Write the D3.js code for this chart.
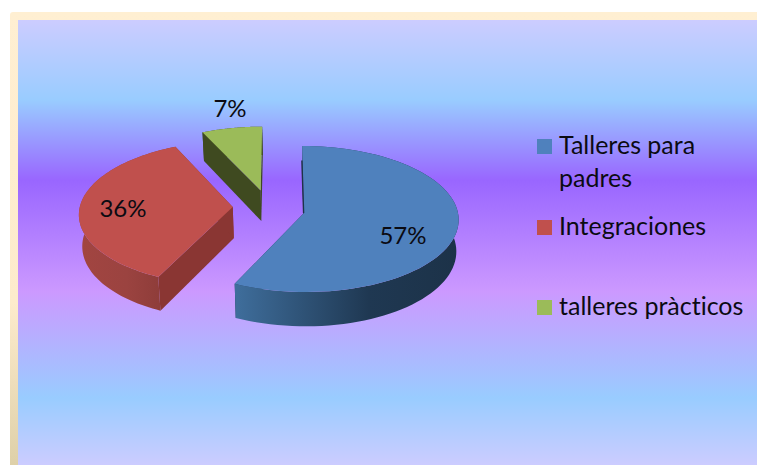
<!DOCTYPE html>
<html><head><meta charset="utf-8">
<script src="https://cdn.jsdelivr.net/npm/d3@7"></script>
<style>html,body{margin:0;padding:0;background:#fff;overflow:hidden}svg{display:block}text{font-family:Lato,"Open Sans",sans-serif;fill:#0b0b12;font-variant-ligatures:none}</style>
</head><body><svg id="c" width="757" height="465"></svg>
<script>
const categories = ["Talleres para padres", "Integraciones", "talleres pràcticos"];
const legendLines = [["Talleres para", "padres"], ["Integraciones"], ["talleres pràcticos"]];
const values = [57, 36, 7];
const tickLabels = values.map(v => v + "%");
const topColors = ["#4F81BD", "#C0504D", "#9BBB59"];

const W = 757, H = 465;
const svg = d3.select("#c");
const defs = svg.append("defs");

// page frame
const frameGrad = defs.append("linearGradient").attr("id","frame").attr("x1",0).attr("y1",0).attr("x2",0).attr("y2",1);
[[0,"#FFEFD2"],[0.6,"#FDEBCC"],[1,"#D8CBA2"]].forEach(s=>frameGrad.append("stop").attr("offset",s[0]).attr("stop-color",s[1]));
const bgGrad = defs.append("linearGradient").attr("id","bg").attr("gradientUnits","userSpaceOnUse").attr("x1",0).attr("y1",20).attr("x2",0).attr("y2",465);
[[0,"#CCCCFF"],[0.18,"#99CCFF"],[0.36,"#9966FF"],[0.61,"#CC99FF"],[0.85,"#99CCFF"],[1,"#CCCCFF"]].forEach(s=>bgGrad.append("stop").attr("offset",s[0]).attr("stop-color",s[1]));
svg.append("rect").attr("x",10).attr("y",12).attr("width",W+20).attr("height",H+20).attr("rx",3).attr("fill","url(#frame)");
svg.append("rect").attr("x",18).attr("y",20).attr("width",W).attr("height",H).attr("fill","url(#bg)");

// 3D pie projection: plane coordinates with a mild perspective
const cx = 304, cy = 213, A = 154, B = 72.5, K = 0.0822, SHEAR = -1.7, DEPTH = 31.5;
const offsets = [[0,0],[-0.465,0.083],[-0.285,0.32]];
const sx = d3.scaleLinear().domain([0,1]).range([cx,cx+A]);
const sy = d3.scaleLinear().domain([0,1]).range([cy,cy-B]);
function proj(X,Y,bottom){
  const s = 1/(1+K*Y);
  let x = sx(X*s) + SHEAR*Y, y = sy(Y*s);
  if(bottom){ x = cx+(x-cx)*0.985; y += DEPTH*s; }
  return [x,y];
}
function pt(i,a,r,bottom){
  return proj(offsets[i][0]+r*Math.sin(a), offsets[i][1]+r*Math.cos(a), bottom);
}
const pieData = d3.pie().sort(null)(values);
const line = d3.line();

const wallStops = [
  [[0,"#3F6E9C"],[0.3,"#2F5377"],[0.6,"#1F3852"],[1,"#1C3248"]],
  [[0,"#A24541"],[0.6,"#9B4340"],[1,"#8F3D3A"]],
  [[0,"#3F4A20"],[1,"#3F4A20"]]
];
const cutColors = ["#1D3349","#8A3633","#3F4A20"];

pieData.forEach((d,i)=>{
  const n = 80;
  const angles = d3.range(n+1).map(k=>d.startAngle+(d.endAngle-d.startAngle)*k/n);
  const top = angles.map(a=>pt(i,a,1,false));
  const bot = angles.map(a=>pt(i,a,1,true));
  const xs = top.map(p=>p[0]);
  const gid = "wall"+i;
  const g = defs.append("linearGradient").attr("id",gid).attr("gradientUnits","userSpaceOnUse")
    .attr("x1",d3.min(xs)).attr("x2",i===1?pt(i,d.startAngle,1,false)[0]:d3.max(xs)).attr("y1",0).attr("y2",0);
  wallStops[i].forEach(s=>g.append("stop").attr("offset",s[0]).attr("stop-color",s[1]));
  // cut faces (behind the outer wall)
  [d.startAngle,d.endAngle].forEach(a=>{
    const poly=[pt(i,a,0,false),pt(i,a,1,false),pt(i,a,1,true),pt(i,a,0,true)];
    svg.append("path").attr("d",line(poly)+"Z").attr("fill",cutColors[i]);
  });
  // outer wall
  svg.append("path").attr("d",line(top.concat(bot.slice().reverse()))+"Z").attr("fill",`url(#${gid})`);
  // top face
  const apex = pt(i,0,0,false);
  svg.append("path").attr("d",line([apex].concat(top))+"Z").attr("fill",topColors[i]);
  // thin dark sliver along the hidden cut of the big slice
  if(i===0){
    const s0 = pt(i,d.startAngle,0.77,false);
    svg.append("path").attr("d",line([[s0[0]-0.8,s0[1]],[apex[0]-0.4,apex[1]]])).attr("stroke",cutColors[0]).attr("stroke-width",1.4).attr("fill","none");
  }
});

// value labels
const labelPos = [[403,244],[123,217],[230,117]];
svg.selectAll("text.v").data(tickLabels).join("text").attr("class","v")
  .attr("x",(d,i)=>labelPos[i][0]).attr("y",(d,i)=>labelPos[i][1])
  .attr("text-anchor","middle").attr("font-size",24).text(d=>d);

// legend
const legendY = [139,220,300];
const lineH = 33;
const lg = svg.selectAll("g.l").data(categories).join("g").attr("class","l");
lg.append("rect").attr("x",537).attr("y",(d,i)=>legendY[i]).attr("width",15).attr("height",15).attr("fill",(d,i)=>topColors[i]);
lg.each(function(d,i){
  const t = d3.select(this).append("text").attr("font-size",25);
  legendLines[i].forEach((s,k)=>t.append("tspan").attr("x",559).attr("y",legendY[i]+14.5+k*lineH).text(s));
});
</script></body></html>
